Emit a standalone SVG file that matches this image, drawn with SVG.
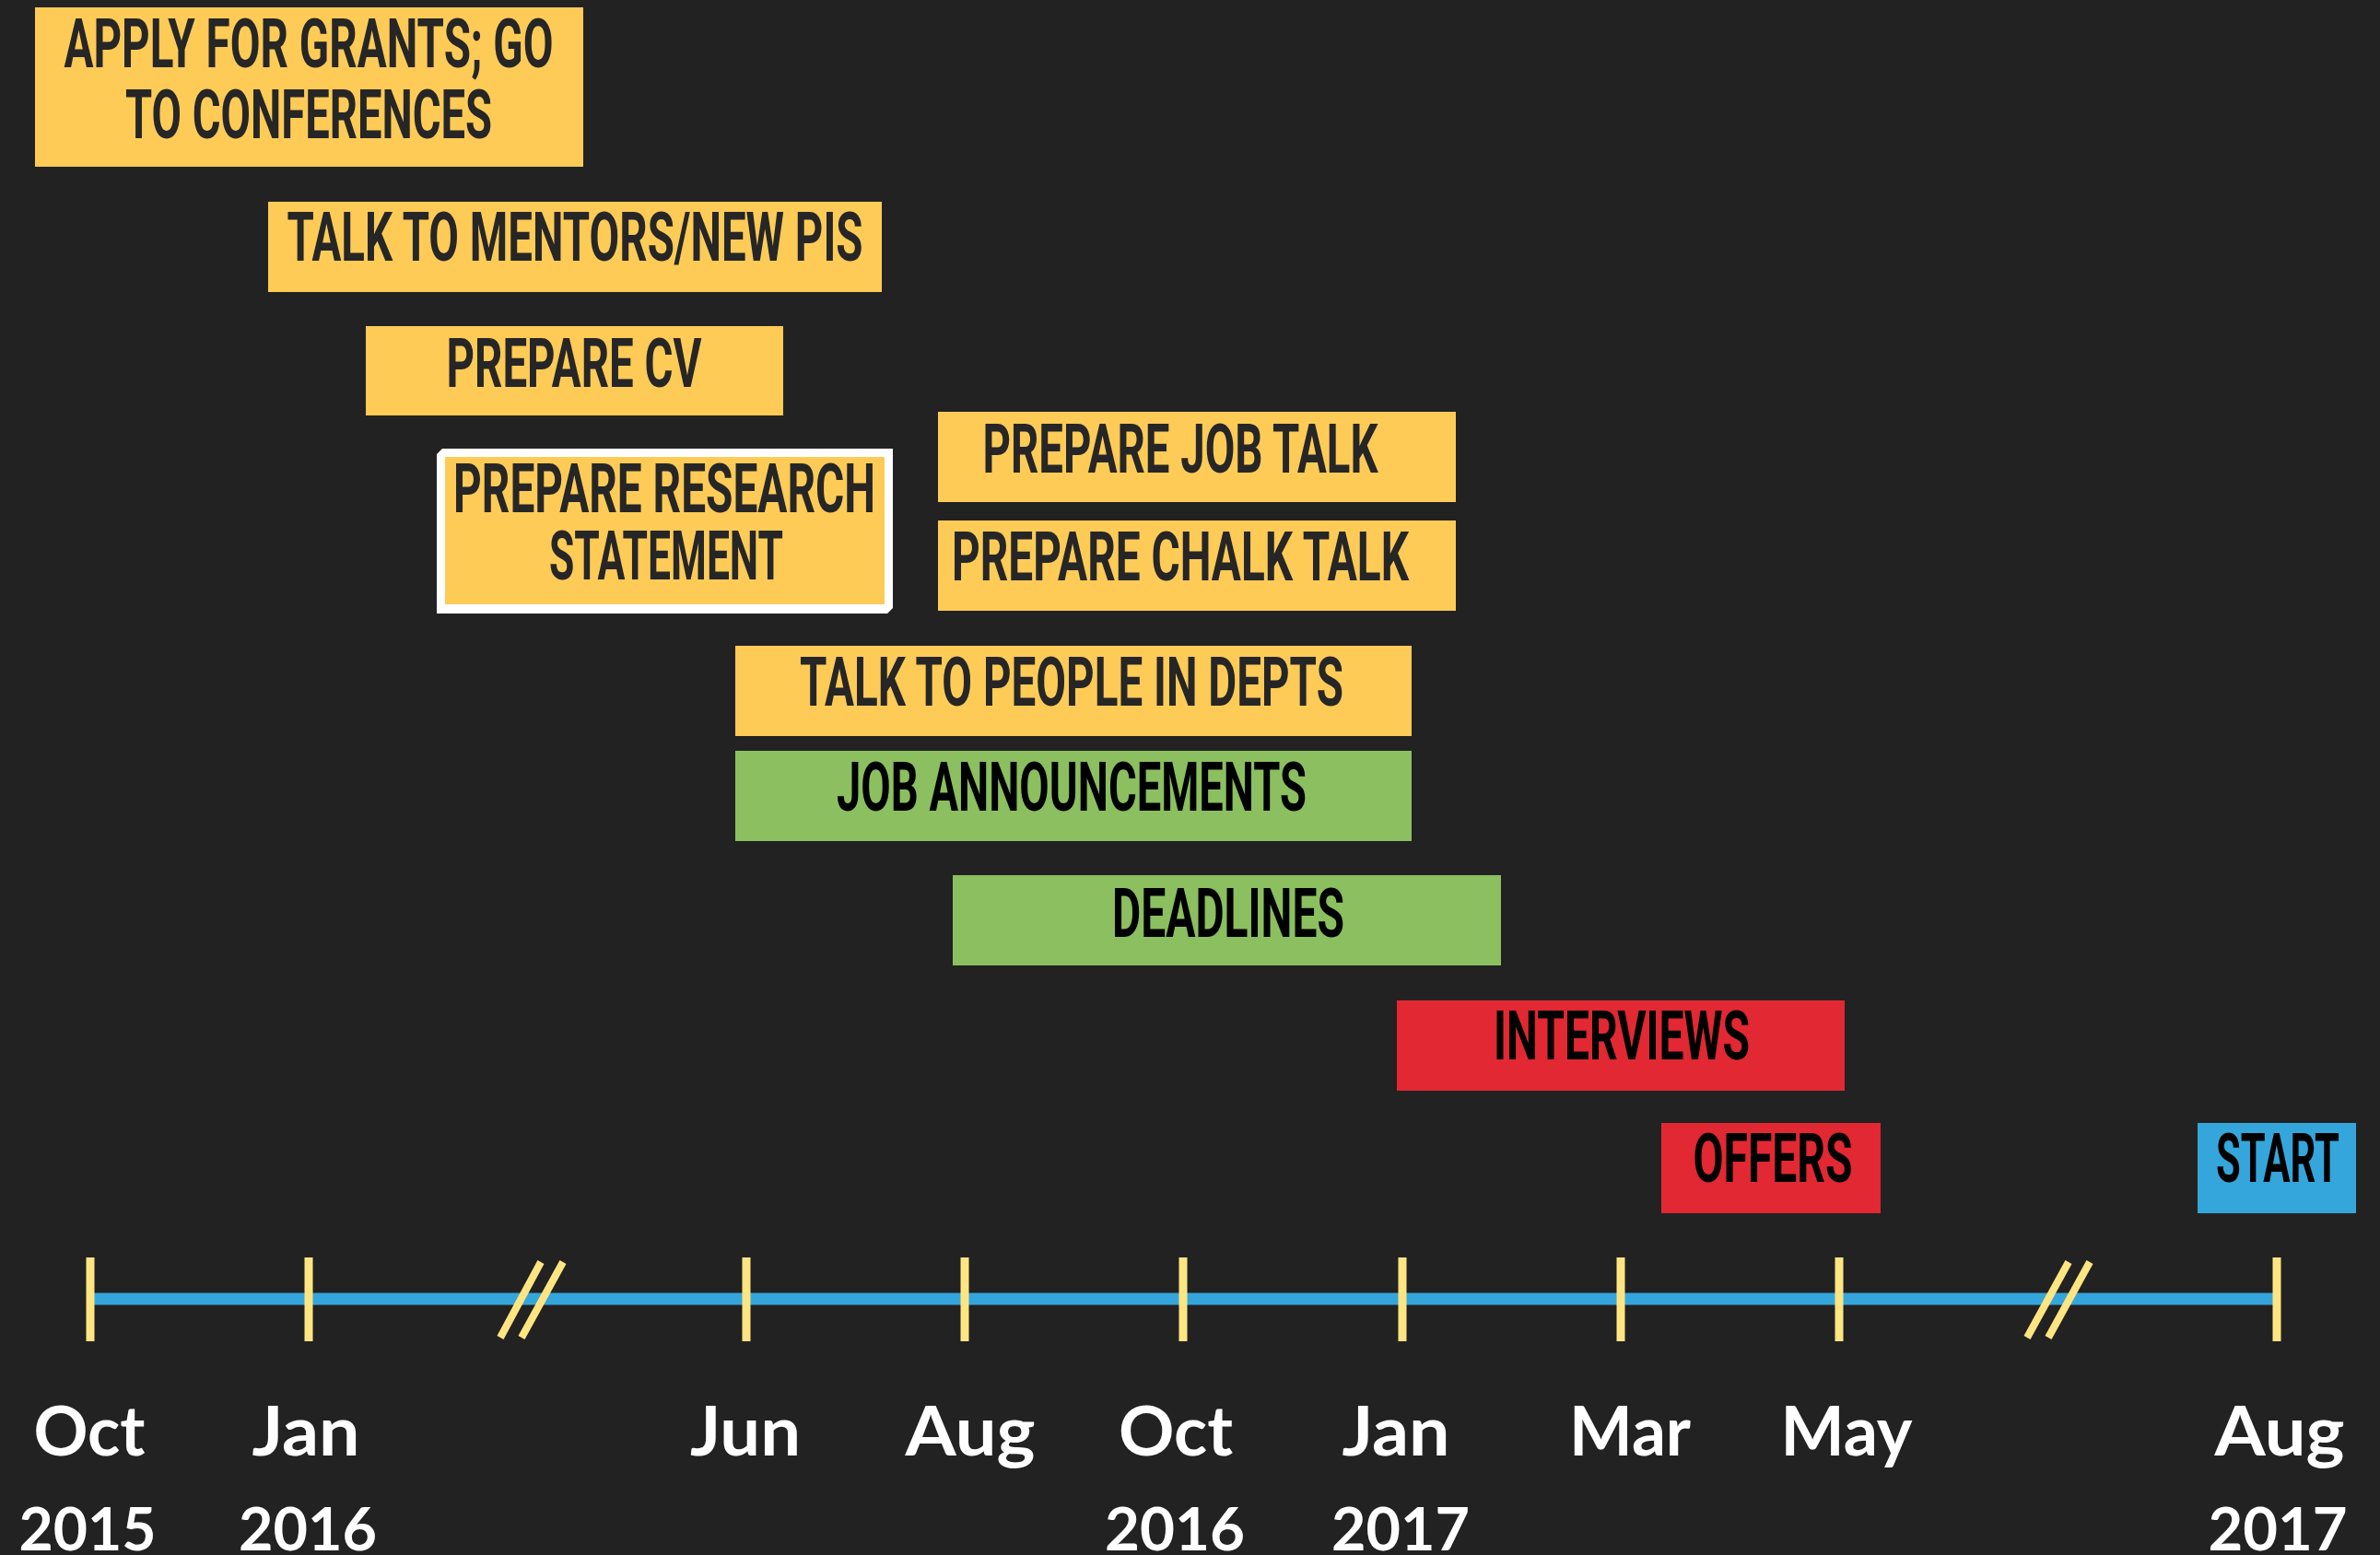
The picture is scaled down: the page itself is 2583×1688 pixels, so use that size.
<svg xmlns="http://www.w3.org/2000/svg" width="2583" height="1688" viewBox="0 0 2583 1688">
<style>
.bg{fill:#222222}
.y{fill:#FECB57}
.g{fill:#8BBF5F}
.r{fill:#E22832}
.b{fill:#35A6DB}
.t{font-family:Roboto,"Liberation Sans",sans-serif;font-weight:bold;font-size:75px;text-anchor:middle}
.ty{fill:#262626}
.tk{fill:#000000}
.tick{stroke:#FFE582;stroke-width:9}
.brk{stroke:#FFE582;stroke-width:8}
.axis{stroke:#35A6DB;stroke-width:13}
.m{font-family:Lato,"Open Sans",sans-serif;font-weight:bold;font-size:75px;fill:#ffffff;text-anchor:middle}
.yr{font-family:Lato,"Open Sans",sans-serif;font-weight:bold;font-size:65px;fill:#ffffff;text-anchor:middle}
</style>
<rect class="bg" x="0" y="0" width="2583" height="1688"/>

<g id="apply-grants">
<rect class="y" x="38" y="8" width="595" height="173"/>
<text class="t ty" x="335" y="73" textLength="531" lengthAdjust="spacingAndGlyphs">APPLY FOR GRANTS; GO</text>
<text class="t ty" x="335" y="150" textLength="398" lengthAdjust="spacingAndGlyphs">TO CONFERENCES</text>
</g>
<g id="talk-mentors">
<rect class="y" x="291" y="219" width="666" height="98"/>
<text class="t ty" x="624" y="283" textLength="625" lengthAdjust="spacingAndGlyphs">TALK TO MENTORS/NEW PIS</text>
</g>
<g id="prepare-cv">
<rect class="y" x="397" y="354" width="453" height="97"/>
<text class="t ty" x="623" y="420" textLength="277" lengthAdjust="spacingAndGlyphs">PREPARE CV</text>
</g>
<g id="prepare-research">
<polygon fill="#ffffff" points="480,487 969,487 969,660 963,666 474,666 474,493"/>
<rect class="y" x="483" y="496" width="477" height="160"/>
<text class="t ty" x="721" y="556" textLength="458" lengthAdjust="spacingAndGlyphs">PREPARE RESEARCH</text>
<text class="t ty" x="723" y="629" textLength="254" lengthAdjust="spacingAndGlyphs">STATEMENT</text>
</g>
<g id="prepare-job-talk">
<rect class="y" x="1018" y="447" width="562" height="98"/>
<text class="t ty" x="1281" y="513" textLength="429" lengthAdjust="spacingAndGlyphs">PREPARE JOB TALK</text>
</g>
<g id="prepare-chalk-talk">
<rect class="y" x="1018" y="565" width="562" height="98"/>
<text class="t ty" x="1281" y="630" textLength="496" lengthAdjust="spacingAndGlyphs">PREPARE CHALK TALK</text>
</g>
<g id="talk-people">
<rect class="y" x="798" y="701" width="734" height="98"/>
<text class="t ty" x="1163" y="766" textLength="590" lengthAdjust="spacingAndGlyphs">TALK TO PEOPLE IN DEPTS</text>
</g>
<g id="job-announcements">
<rect class="g" x="798" y="815" width="734" height="98"/>
<text class="t tk" x="1163" y="880" textLength="510" lengthAdjust="spacingAndGlyphs">JOB ANNOUNCEMENTS</text>
</g>
<g id="deadlines">
<rect class="g" x="1034" y="950" width="595" height="98"/>
<text class="t tk" x="1333" y="1017" textLength="252" lengthAdjust="spacingAndGlyphs">DEADLINES</text>
</g>
<g id="interviews">
<rect class="r" x="1516" y="1086" width="486" height="98"/>
<text class="t tk" x="1760" y="1150" textLength="278" lengthAdjust="spacingAndGlyphs">INTERVIEWS</text>
</g>
<g id="offers">
<rect class="r" x="1803" y="1219" width="238" height="98"/>
<text class="t tk" x="1924" y="1283" textLength="173" lengthAdjust="spacingAndGlyphs">OFFERS</text>
</g>
<g id="start">
<rect class="b" x="2385" y="1219" width="172" height="98"/>
<text class="t tk" x="2472" y="1283" textLength="134" lengthAdjust="spacingAndGlyphs">START</text>
</g>

<g id="timeline">
<line class="axis" x1="98" y1="1410" x2="2471" y2="1410"/>
<line class="tick" x1="98" y1="1365" x2="98" y2="1456"/>
<line class="tick" x1="335" y1="1365" x2="335" y2="1456"/>
<line class="tick" x1="810" y1="1365" x2="810" y2="1456"/>
<line class="tick" x1="1047" y1="1365" x2="1047" y2="1456"/>
<line class="tick" x1="1284" y1="1365" x2="1284" y2="1456"/>
<line class="tick" x1="1522" y1="1365" x2="1522" y2="1456"/>
<line class="tick" x1="1759" y1="1365" x2="1759" y2="1456"/>
<line class="tick" x1="1996" y1="1365" x2="1996" y2="1456"/>
<line class="tick" x1="2471" y1="1365" x2="2471" y2="1456"/>
<line class="brk" x1="587" y1="1370" x2="543" y2="1452"/>
<line class="brk" x1="611" y1="1370" x2="566" y2="1452"/>
<line class="brk" x1="2245" y1="1370" x2="2200" y2="1452"/>
<line class="brk" x1="2268" y1="1370" x2="2223" y2="1452"/>
</g>

<g id="axis-labels">
<text class="m" x="97" y="1580" textLength="121" lengthAdjust="spacingAndGlyphs">Oct</text>
<text class="m" x="332" y="1580" textLength="117" lengthAdjust="spacingAndGlyphs">Jan</text>
<text class="m" x="809" y="1580" textLength="120" lengthAdjust="spacingAndGlyphs">Jun</text>
<text class="m" x="1053" y="1580" textLength="141" lengthAdjust="spacingAndGlyphs">Aug</text>
<text class="m" x="1276" y="1580" textLength="124" lengthAdjust="spacingAndGlyphs">Oct</text>
<text class="m" x="1515" y="1580" textLength="117" lengthAdjust="spacingAndGlyphs">Jan</text>
<text class="m" x="1769" y="1580" textLength="132" lengthAdjust="spacingAndGlyphs">Mar</text>
<text class="m" x="2004" y="1580" textLength="143" lengthAdjust="spacingAndGlyphs">May</text>
<text class="m" x="2474" y="1580" textLength="141" lengthAdjust="spacingAndGlyphs">Aug</text>
<text class="yr" x="95" y="1683" textLength="149" lengthAdjust="spacingAndGlyphs">2015</text>
<text class="yr" x="334" y="1683" textLength="150" lengthAdjust="spacingAndGlyphs">2016</text>
<text class="yr" x="1275" y="1683" textLength="152" lengthAdjust="spacingAndGlyphs">2016</text>
<text class="yr" x="1520" y="1683" textLength="150" lengthAdjust="spacingAndGlyphs">2017</text>
<text class="yr" x="2472" y="1683" textLength="151" lengthAdjust="spacingAndGlyphs">2017</text>
</g>
</svg>
